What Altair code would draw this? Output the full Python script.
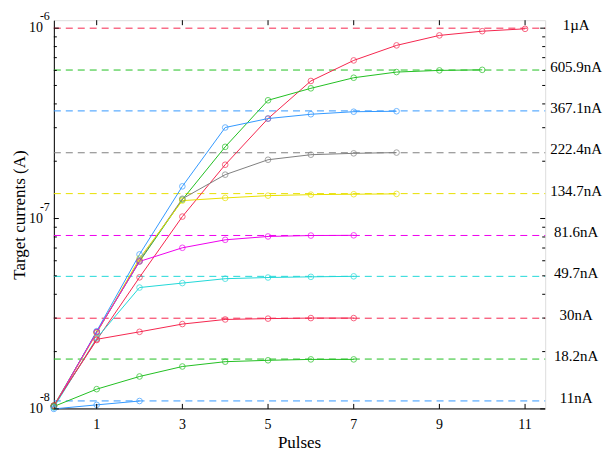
import altair as alt
import pandas as pd

# ---------------- data ----------------
labels = ["1µA", "605.9nA", "367.1nA", "222.4nA", "134.7nA",
          "81.6nA", "49.7nA", "30nA", "18.2nA", "11nA"]
targets_nA = [1000, 605.9, 367.1, 222.4, 134.7, 81.6, 49.7, 30, 18.2, 11]
colors = ["#f5264e", "#22c022", "#3399ff", "#808080", "#e8e000",
          "#ee00ee", "#22d8d8", "#f5264e", "#22c022", "#3399ff"]

# currents in nA, pulse index 0,1,2,...
s_1000 = [10.4, 23.0, 49.1, 102.4, 191.7, 335, 528, 677, 812, 916, 964, 992]
s_605 = [10.4, 25.3, 59.5, 125.7, 238, 418, 483, 549, 588, 600, 604]
s_367 = [10.2, 25.6, 64.8, 147.6, 300.7, 335, 353, 364, 366]
s_222 = [10.3, 25.3, 60.2, 127, 170, 203.6, 216.4, 220, 222]
s_134 = [10.3, 25.0, 61.7, 124.2, 128.3, 131.9, 133.5, 134.2, 134.7]
s_81 = [10.3, 25.3, 59.5, 70.2, 77.3, 80.5, 81.4, 81.6]
s_49 = [10.2, 23.5, 43.4, 45.8, 48.3, 49.0, 49.4, 49.7]
s_30 = [10.4, 23.2, 25.4, 27.9, 29.5, 29.8, 30.0, 30.0]
s_18 = [10.3, 12.7, 14.8, 16.7, 17.7, 18.0, 18.2, 18.2]
s_11 = [10.0, 10.5, 11.0]
series = [s_1000, s_605, s_367, s_222, s_134, s_81, s_49, s_30, s_18, s_11]

x_ticks = [1, 3, 5, 7, 9, 11]
x_max = 11.47
y_min, y_max = 1e-8, 1.101e-6
decades = [1e-8, 1e-7, 1e-6]
exponents = ["-8", "-7", "-6"]
minor = [m * d for d in [1e-8, 1e-7] for m in range(2, 10)]

# ---------------- tables ----------------
rows = []
for i, s in enumerate(series):
    for k, v in enumerate(s):
        rows.append({"sid": i, "pulse": k, "I": v * 1e-9, "color": colors[i]})
df = pd.DataFrame(rows)
tg = pd.DataFrame({"label": labels, "I": [t * 1e-9 for t in targets_nA],
                   "color": colors, "x0": 0.0, "x1": x_max})
dec_df = pd.DataFrame({"v": decades, "base": "10", "exp": exponents})
minor_df = pd.DataFrame({"v": minor})
xt_df = pd.DataFrame({"x": x_ticks})

W, H = 493, 390
FONT = "Liberation Serif"

xs = alt.Scale(domain=[0, x_max], nice=False, zero=False)
ys = alt.Scale(type="log", domain=[y_min, y_max], nice=False)
xaxis = alt.Axis(values=x_ticks, ticks=False, grid=False, domainColor="black",
                 labelFont=FONT, labelFontSize=14, labelColor="black",
                 labelPadding=9, title="Pulses", titleFont=FONT,
                 titleFontSize=17, titleFontWeight="normal", titleColor="black",
                 titlePadding=3, translate=0)
yaxis = alt.Axis(labels=False, ticks=False, grid=False, domainColor="black",
                 title="Target currents (A)", titleFont=FONT, titleFontSize=17,
                 titleFontWeight="normal", titleColor="black", titlePadding=25)


def X(f):
    return alt.X(f, type="quantitative", scale=xs, axis=xaxis)


def Y(f):
    return alt.Y(f, type="quantitative", scale=ys, axis=yaxis)


# target levels: invisible layer keeps them on the shared y scale,
# the dashed rule snaps the scaled position to a whole pixel row
target_anchor = alt.Chart(tg).mark_point(opacity=0).encode(
    x=X("x0"), y=Y("I"))
dashed = alt.Chart(tg).mark_rule(strokeDash=[7, 5], strokeWidth=1).encode(
    x=X("x0"), x2="x1",
    y=alt.value(alt.expr("round(scale('y', datum.I))")),
    color=alt.Color("color:N", scale=None))

lines = alt.Chart(df).mark_line(strokeWidth=1).encode(
    x=X("pulse"), y=Y("I"), color=alt.Color("color:N", scale=None),
    detail="sid:N", order="pulse:Q")

points = alt.Chart(df).mark_point(shape="circle", filled=False, size=32,
                                  strokeWidth=1).encode(
    x=X("pulse"), y=Y("I"), color=alt.Color("color:N", scale=None))

right_labels = alt.Chart(tg).mark_text(font=FONT, fontSize=15, align="center",
                                       baseline="middle", dy=-3,
                                       color="black").encode(
    x=alt.value(W + 31), y=Y("I"), text="label:N")

base_lbl = alt.Chart(dec_df).mark_text(font=FONT, fontSize=14, align="right",
                                       baseline="middle", color="black").encode(
    x=alt.value(-11), y=Y("v"), text="base:N")
exp_lbl = alt.Chart(dec_df).mark_text(font=FONT, fontSize=12, align="left",
                                      baseline="middle", dy=-12,
                                      color="black").encode(
    x=alt.value(-14), y=Y("v"), text="exp:N")

tick_style = dict(color="black", strokeWidth=1)
lt_major = alt.Chart(dec_df).mark_rule(**tick_style).encode(
    y=Y("v"), x=alt.value(0), x2=alt.value(5))
lt_minor = alt.Chart(minor_df).mark_rule(**tick_style).encode(
    y=Y("v"), x=alt.value(0), x2=alt.value(3))
rt_major = alt.Chart(dec_df).mark_rule(**tick_style).encode(
    y=Y("v"), x=alt.value(W), x2=alt.value(W - 5))
rt_minor = alt.Chart(minor_df).mark_rule(**tick_style).encode(
    y=Y("v"), x=alt.value(W), x2=alt.value(W - 3))
bt = alt.Chart(xt_df).mark_rule(**tick_style).encode(
    x=X("x"), y=alt.value(H), y2=alt.value(H - 5))
tt = alt.Chart(xt_df).mark_rule(**tick_style).encode(
    x=X("x"), y=alt.value(0), y2=alt.value(5))

chart = alt.layer(
    target_anchor, dashed, lines, points, right_labels, base_lbl, exp_lbl,
    lt_major, lt_minor, rt_major, rt_minor, bt, tt
).properties(
    width=W, height=H,
    autosize=alt.AutoSizeParams(type="none"),
    padding={"left": 46, "top": 11.5, "right": 60, "bottom": 43.5},
).configure_view(stroke="#444", strokeWidth=1).configure(background="white")

chart.save("out.html", embed_options={"renderer": "svg", "actions": False})
